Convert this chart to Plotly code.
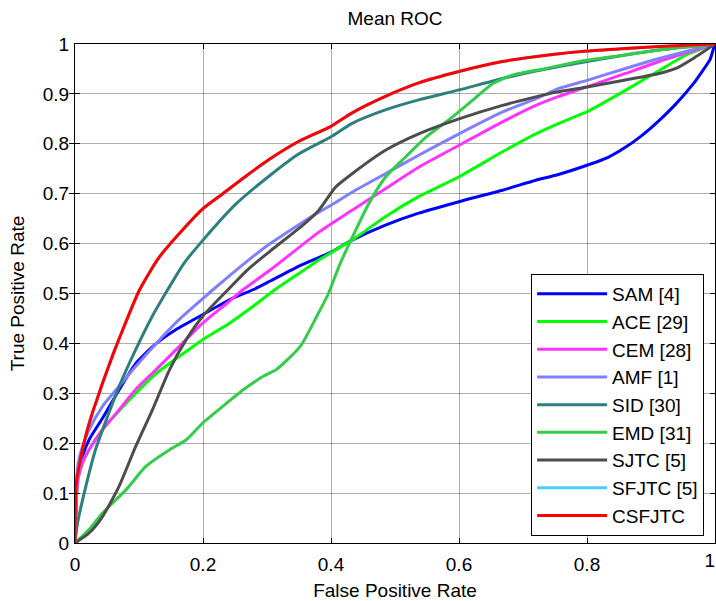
import plotly.graph_objects as go

# ---- data (False Positive Rate, True Positive Rate) ----
sam_x = [0, 0.002, 0.004, 0.006, 0.0115, 0.022, 0.043, 0.069, 0.095, 0.127, 0.158, 0.2, 0.242, 0.279, 0.305, 0.35, 0.4, 0.433, 0.485, 0.537, 0.6, 0.668, 0.72, 0.754, 0.8, 0.833, 0.86, 0.886, 0.913, 0.939, 0.966, 0.981, 0.992, 0.997, 1]
sam_y = [0, 0.08, 0.13, 0.147, 0.174, 0.207, 0.25, 0.307, 0.36, 0.4, 0.428, 0.458, 0.488, 0.508, 0.525, 0.555, 0.583, 0.607, 0.637, 0.661, 0.684, 0.707, 0.727, 0.738, 0.757, 0.773, 0.793, 0.817, 0.847, 0.88, 0.92, 0.947, 0.968, 0.988, 1]

ace_x = [0, 0.002, 0.005, 0.0115, 0.022, 0.043, 0.069, 0.095, 0.127, 0.163, 0.2, 0.242, 0.279, 0.313, 0.35, 0.381, 0.433, 0.485, 0.537, 0.6, 0.668, 0.72, 0.788, 0.8, 0.86, 0.913, 0.955, 1]
ace_y = [0, 0.09, 0.13, 0.16, 0.187, 0.227, 0.265, 0.3, 0.34, 0.374, 0.408, 0.441, 0.475, 0.508, 0.54, 0.567, 0.607, 0.654, 0.694, 0.734, 0.784, 0.82, 0.858, 0.864, 0.907, 0.947, 0.978, 1]

cem_x = [0, 0.002, 0.005, 0.0115, 0.022, 0.043, 0.069, 0.095, 0.127, 0.163, 0.2, 0.237, 0.263, 0.305, 0.381, 0.433, 0.485, 0.537, 0.6, 0.668, 0.72, 0.754, 0.8, 0.86, 0.913, 1]
cem_y = [0, 0.09, 0.13, 0.16, 0.187, 0.227, 0.267, 0.308, 0.348, 0.394, 0.441, 0.48, 0.508, 0.547, 0.623, 0.667, 0.71, 0.753, 0.797, 0.844, 0.877, 0.894, 0.914, 0.941, 0.965, 1]

amf_x = [0, 0.002, 0.005, 0.0115, 0.022, 0.043, 0.069, 0.095, 0.127, 0.163, 0.2, 0.216, 0.284, 0.305, 0.357, 0.381, 0.4, 0.433, 0.485, 0.537, 0.6, 0.668, 0.72, 0.754, 0.8, 0.86, 0.913, 1]
amf_y = [0, 0.12, 0.16, 0.193, 0.227, 0.274, 0.314, 0.354, 0.4, 0.448, 0.49, 0.508, 0.58, 0.6, 0.644, 0.663, 0.677, 0.703, 0.74, 0.777, 0.82, 0.864, 0.89, 0.91, 0.927, 0.951, 0.971, 1]

sid_x = [0, 0.004, 0.017, 0.032, 0.051, 0.069, 0.095, 0.121, 0.145, 0.17, 0.2, 0.252, 0.305, 0.35, 0.4, 0.433, 0.485, 0.537, 0.6, 0.668, 0.72, 0.8, 0.86, 0.913, 1]
sid_y = [0, 0.04, 0.114, 0.187, 0.254, 0.314, 0.388, 0.455, 0.508, 0.56, 0.607, 0.68, 0.737, 0.78, 0.814, 0.841, 0.868, 0.888, 0.908, 0.931, 0.946, 0.965, 0.978, 0.988, 1]

emd_x = [0, 0.022, 0.043, 0.08, 0.111, 0.148, 0.174, 0.2, 0.231, 0.263, 0.294, 0.315, 0.352, 0.378, 0.396, 0.412, 0.433, 0.459, 0.485, 0.516, 0.548, 0.59, 0.621, 0.652, 0.684, 0.736, 0.788, 0.86, 0.913, 1]
emd_y = [0, 0.027, 0.06, 0.107, 0.154, 0.187, 0.207, 0.241, 0.274, 0.307, 0.334, 0.348, 0.394, 0.455, 0.5, 0.553, 0.612, 0.68, 0.733, 0.773, 0.813, 0.854, 0.887, 0.92, 0.938, 0.951, 0.965, 0.978, 0.988, 1]

sjtc_x = [0, 0.022, 0.043, 0.069, 0.095, 0.121, 0.148, 0.174, 0.2, 0.237, 0.27, 0.305, 0.357, 0.381, 0.407, 0.433, 0.485, 0.537, 0.6, 0.668, 0.72, 0.754, 0.8, 0.86, 0.913, 0.939, 0.966, 1]
sjtc_y = [0, 0.02, 0.053, 0.114, 0.194, 0.267, 0.348, 0.408, 0.455, 0.505, 0.548, 0.585, 0.638, 0.667, 0.713, 0.74, 0.787, 0.82, 0.85, 0.877, 0.894, 0.904, 0.914, 0.928, 0.941, 0.951, 0.971, 1]

sfjtc_x = [0, 0.0005, 0.001, 0.003, 0.006, 0.01, 0.014, 0.02, 0.027, 0.035, 0.043, 0.06, 0.077, 0.1, 0.13, 0.163, 0.2, 0.231, 0.27, 0.305, 0.35, 0.4, 0.433, 0.485, 0.537, 0.6, 0.668, 0.746, 0.8, 0.86, 0.913, 1]
sfjtc_y = [0, 0.06, 0.1, 0.13, 0.15, 0.178, 0.2, 0.23, 0.26, 0.29, 0.32, 0.38, 0.435, 0.505, 0.57, 0.62, 0.67, 0.70, 0.738, 0.77, 0.805, 0.835, 0.862, 0.895, 0.922, 0.945, 0.965, 0.979, 0.986, 0.991, 0.995, 1]

csfjtc_x = [0, 0.0005, 0.001, 0.003, 0.006, 0.01, 0.014, 0.02, 0.027, 0.035, 0.043, 0.06, 0.077, 0.1, 0.13, 0.163, 0.2, 0.231, 0.27, 0.305, 0.35, 0.4, 0.433, 0.485, 0.537, 0.6, 0.668, 0.746, 0.8, 0.86, 0.913, 1]
csfjtc_y = [0, 0.06, 0.1, 0.13, 0.15, 0.178, 0.2, 0.23, 0.26, 0.29, 0.32, 0.38, 0.435, 0.505, 0.57, 0.62, 0.67, 0.70, 0.738, 0.77, 0.805, 0.835, 0.862, 0.895, 0.922, 0.945, 0.965, 0.979, 0.986, 0.991, 0.995, 1]

series_names = ["SAM [4]", "ACE [29]", "CEM [28]", "AMF [1]", "SID [30]", "EMD [31]", "SJTC [5]", "SFJTC [5]", "CSFJTC"]
series_colors = ["#0000FF", "#00FF00", "#FF33FF", "#8080FF", "#2F7F7F", "#33CC4C", "#4D4D4D", "#4DCCFF", "#FF0000"]
series_data = [(sam_x, sam_y), (ace_x, ace_y), (cem_x, cem_y), (amf_x, amf_y), (sid_x, sid_y),
               (emd_x, emd_y), (sjtc_x, sjtc_y), (sfjtc_x, sfjtc_y), (csfjtc_x, csfjtc_y)]

x_ticks = [0, 0.2, 0.4, 0.6, 0.8, 1]
x_tick_labels = ["0", "0.2", "0.4", "0.6", "0.8", "1"]
y_ticks = [0, 0.1, 0.2, 0.3, 0.4, 0.5, 0.6, 0.7, 0.8, 0.9, 1]
y_tick_labels = ["0", "0.1", "0.2", "0.3", "0.4", "0.5", "0.6", "0.7", "0.8", "0.9", "1"]

FONT = "Liberation Sans, Arial, Helvetica, sans-serif"

fig = go.Figure()
for name, color, (xs, ys) in zip(series_names, series_colors, series_data):
    fig.add_trace(go.Scatter(x=xs, y=ys, mode="lines", name=name,
                             line=dict(color=color, width=3, shape="spline", smoothing=0.6)))

# empty helper trace so the overlay axis carrying the last x tick label gets drawn
fig.add_trace(go.Scatter(x=[], y=[], xaxis="x2", yaxis="y", mode="lines",
                         showlegend=False, hoverinfo="skip"))

axis_common = dict(
    showline=True, linecolor="black", linewidth=1, mirror="allticks",
    ticks="inside", ticklen=5, tickcolor="black", tickwidth=1,
    showgrid=True, gridcolor="rgba(0,0,0,0.32)", gridwidth=1,
    zeroline=False, tickfont=dict(family=FONT, size=19, color="black"),
    ticklabeloverflow="allow", automargin=False,
)

# the last x tick label sits at the right page edge: put it on an overlay axis, left of its tick
main_x_text = x_tick_labels[:-1] + [""]

fig.update_layout(
    width=716, height=601,
    margin=dict(l=75, r=1, t=44, b=58),
    paper_bgcolor="white", plot_bgcolor="white",
    font=dict(family=FONT, size=19, color="black"),
    title=dict(text="Mean ROC", x=0.5, xref="paper", y=1 - 18 / 601, yref="container",
               xanchor="center", yanchor="middle", font=dict(family=FONT, size=19, color="black")),
    xaxis=dict(range=[0, 1], tickvals=x_ticks, ticktext=main_x_text, ticklabelstandoff=4,
               title=dict(text="False Positive Rate", standoff=10, font=dict(family=FONT, size=19)),
               **axis_common),
    xaxis2=dict(range=[0, 1], overlaying="x", anchor="y", side="bottom",
                tickvals=x_ticks[-1:], ticktext=x_tick_labels[-1:],
                ticklabelposition="outside left", ticklabelstandoff=4,
                ticks="", showline=False, showgrid=False, zeroline=False,
                tickfont=dict(family=FONT, size=19, color="black"),
                ticklabeloverflow="allow", automargin=False),
    yaxis=dict(range=[0, 1], tickvals=y_ticks, ticktext=y_tick_labels, ticklabelstandoff=1,
               title=dict(text="True Positive Rate", standoff=13, font=dict(family=FONT, size=19)),
               **axis_common),
    legend=dict(x=0.983, y=0.014, xanchor="right", yanchor="bottom",
                bgcolor="white", bordercolor="black", borderwidth=1,
                font=dict(family=FONT, size=19, color="black"),
                tracegroupgap=0, itemwidth=70),
    showlegend=True,
)

fig.write_html("out.html")
